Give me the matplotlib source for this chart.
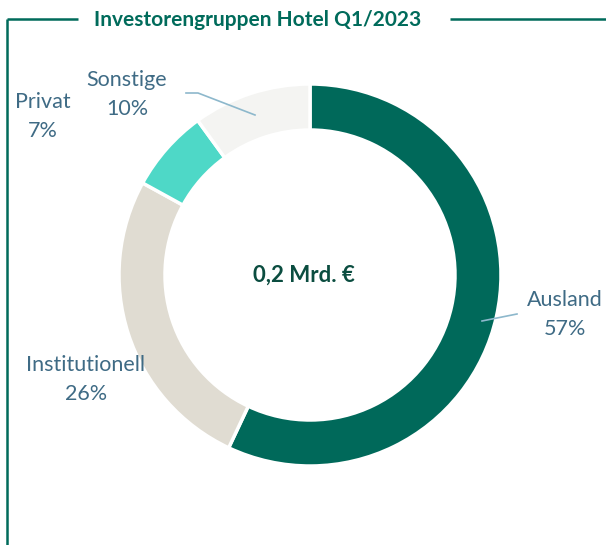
import matplotlib.pyplot as plt
from matplotlib.lines import Line2D

# data
groups = ["Ausland", "Institutionell", "Privat", "Sonstige"]
shares = [57, 26, 7, 10]
colors = ["#00695A", "#E0DCD2", "#4ED8C7", "#F4F4F2"]
title = "Investorengruppen Hotel Q1/2023"
center_text = "0,2 Mrd. €"

W, H = 606, 545
GREEN = "#006B5B"
LABEL = "#3F6B85"
plt.rcParams["font.family"] = ["Lato", "DejaVu Sans"]

fig = plt.figure(figsize=(W / 100, H / 100), dpi=100)
ax = fig.add_axes([0, 0, 1, 1])

cx, cy, R = 310, H - 275, 191
ax.pie(shares, colors=colors, startangle=90, counterclock=False,
       center=(cx, cy), radius=R,
       wedgeprops=dict(width=46, edgecolor="white", linewidth=2.5))
ax.set_xlim(0, W)
ax.set_ylim(0, H)
ax.set_aspect("equal")
ax.axis("off")


def py(y):
    return H - y


# frame lines around title
for xs, ys in [([7, 78], [19, 19]), ([7, 7], [19, 545]), ([450, 606], [19, 19])]:
    ax.add_line(Line2D(xs, [py(v) for v in ys], color=GREEN, lw=1.8,
                       solid_capstyle="butt"))

ax.text(258, py(20), title, ha="center", va="center", fontsize=15,
        fontweight="bold", color=GREEN)
ax.text(304, py(275), center_text, ha="center", va="center", fontsize=16,
        fontweight="bold", color="#0B4D40")

# labels
labels = {
    "Sonstige": (127, 80, "10%"),
    "Privat": (43, 102, "7%"),
    "Ausland": (565, 300, "57%"),
    "Institutionell": (86, 365, "26%"),
}
for name, (x, y, pct) in labels.items():
    ax.text(x, py(y), name, ha="center", va="center", fontsize=15.5, color=LABEL)
    ax.text(x, py(y + 29), pct, ha="center", va="center", fontsize=15.5, color=LABEL)

# leader lines
ax.add_line(Line2D([186, 198, 255], [py(93), py(93), py(115)], color="#8DB8CC", lw=1.2))
ax.add_line(Line2D([482, 517], [py(321), py(314)], color="#8DB8CC", lw=1.2))

fig.savefig("out.png", dpi=100)
